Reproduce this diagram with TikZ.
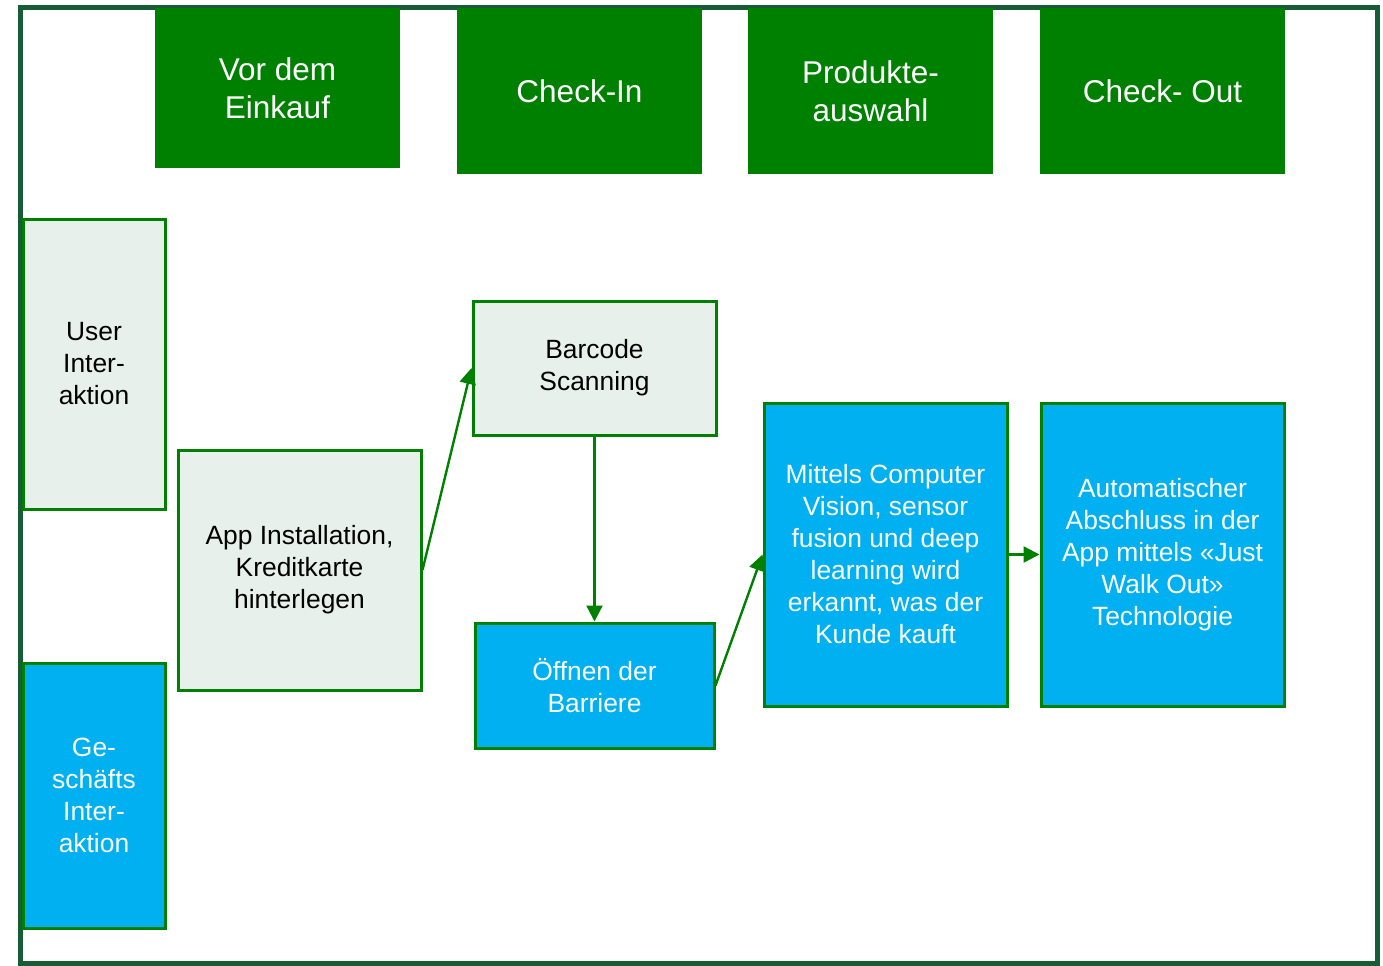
\documentclass[tikz,border=0pt]{standalone}
\usepackage{fontspec}
\setmainfont{Liberation Sans}
\usepackage{tikz}
\usetikzlibrary{arrows.meta}

\definecolor{rahmen}{HTML}{165C34}
\definecolor{gruen}{HTML}{008000}
\definecolor{hell}{HTML}{E8F0EC}
\definecolor{blau}{HTML}{00B0F0}

\tikzset{
  kopf/.style={fill=gruen, text=white, align=center, inner sep=0pt, font=\fontsize{15.75}{19}\selectfont},
  user/.style={draw=gruen, line width=1.5pt, fill=hell, text=black, align=center, inner sep=0pt, font=\fontsize{13.2}{16}\selectfont,
    execute at begin node={\rule{0pt}{13pt}}},
  biz/.style={user, fill=blau, text=white},
  pfeil/.style={draw=gruen, line width=1.2pt, -{Triangle[length=8pt,width=8pt]}}
}

\begin{document}
\begin{tikzpicture}[x=0.5pt, y=-0.5pt]
\useasboundingbox (0,0) rectangle (1383,965);

% Rahmen
\draw[rahmen, line width=2.5pt] (20,7) rectangle (1377,963);

% Phasen oben
\node[kopf, minimum width=122.5pt, minimum height=80pt] (vor) at (277.5,88) {Vor dem\\Einkauf};
\node[kopf, minimum width=122.5pt, minimum height=83pt] (checkin) at (579.5,91) {Check-In};
\node[kopf, minimum width=122.5pt, minimum height=83pt] (auswahl) at (870.5,91) {Produkte-\\auswahl};
\node[kopf, minimum width=122.5pt, minimum height=83pt] (checkout) at (1162.5,91) {Check- Out};

% Zeilen links
\node[user, minimum width=71pt, minimum height=145pt] (ui) at (94,364) {User\\Inter-\\aktion};
\node[biz, minimum width=71pt, minimum height=132.5pt] (gi) at (94,795.5) {Ge-\\schäfts\\Inter-\\aktion};

% Schritte
\node[user, minimum width=121.5pt, minimum height=120pt] (app) at (299.5,570) {App Installation,\\Kreditkarte\\hinterlegen};
\node[user, minimum width=121.5pt, minimum height=67pt] (barcode) at (594.5,368) {Barcode\\Scanning};
\node[biz, minimum width=119.5pt, minimum height=62.5pt] (barriere) at (594.5,685.5) {Öffnen der\\Barriere};
\node[biz, minimum width=121.5pt, minimum height=151.5pt] (vision) at (885.5,554.5) {Mittels Computer\\Vision, sensor\\fusion und deep\\learning wird\\erkannt, was der\\Kunde kauft};
\node[biz, minimum width=121.5pt, minimum height=151.5pt] (abschluss) at (1162.5,554.5) {Automatischer\\Abschluss in der\\App mittels «Just\\Walk Out»\\Technologie};

% Pfeile
\draw[pfeil] (app.east) -- (barcode.west);
\draw[pfeil] (barcode.south) -- (barriere.north);
\draw[pfeil] (barriere.east) -- (vision.west);
\draw[pfeil] (vision.east) -- (abschluss.west);
\end{tikzpicture}
\end{document}
